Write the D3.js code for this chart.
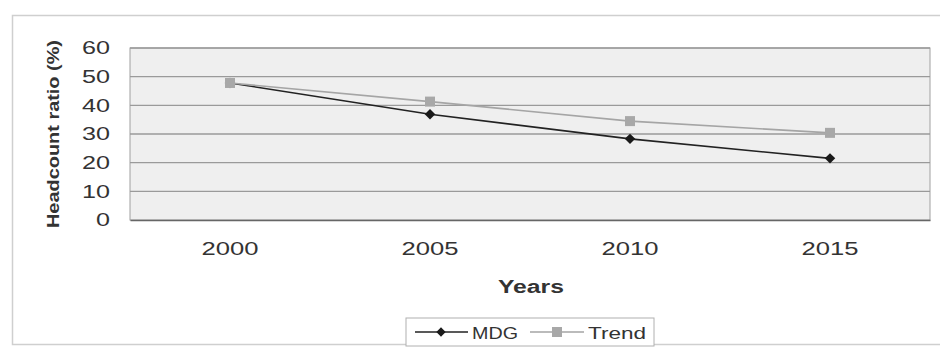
<!DOCTYPE html>
<html><head><meta charset="utf-8">
<script src="https://cdn.jsdelivr.net/npm/d3@7"></script>
<style>body{margin:0;background:#fff}svg{display:block;font-family:Arial,"Liberation Sans",sans-serif}</style>
</head><body><svg id="c" width="940" height="349"></svg>
<script>
const years = ["2000","2005","2010","2015"];
const mdg = [47.8, 36.9, 28.3, 21.5];
const trend = [47.8, 41.3, 34.5, 30.4];
const yTicks = [0,10,20,30,40,50,60];
const seriesNames = ["MDG","Trend"];

const svg = d3.select("#c");
const m = {l:130, r:930, t:48, b:220};
const x = d3.scaleBand().domain(years).range([m.l, m.r]);
const y = d3.scaleLinear().domain([0,60]).range([m.b, m.t]);

// outer frame
svg.append("rect").attr("x",12.5).attr("y",15.5).attr("width",940).attr("height",329)
  .attr("fill","#fff").attr("stroke","#cfcfcf").attr("stroke-width",1.5);

// plot area
svg.append("rect").attr("x",m.l).attr("y",m.t).attr("width",m.r-m.l).attr("height",m.b-m.t)
  .attr("fill","#efefef").attr("stroke","#a0a0a0").attr("stroke-width",1);

// gridlines
svg.append("g").selectAll("line").data(yTicks.filter(d=>d>0)).join("line")
  .attr("x1",m.l).attr("x2",m.r).attr("y1",d=>y(d)).attr("y2",d=>y(d))
  .attr("stroke","#9a9a9a").attr("stroke-width",1.3);

// y axis
const ya = svg.append("g").attr("transform",`translate(${m.l},0)`)
  .call(d3.axisLeft(y).tickValues(yTicks).tickSize(0).tickPadding(20));
ya.select(".domain").remove();
ya.selectAll("text").attr("font-size",18).attr("fill","#333").attr("font-family","Arial, 'Liberation Sans', sans-serif")
  .attr("textLength",d=>d===0?14:28).attr("lengthAdjust","spacingAndGlyphs");

// x axis
const xa = svg.append("g").attr("transform",`translate(0,${m.b})`)
  .call(d3.axisBottom(x).tickSize(0).tickPadding(22));
xa.select(".domain").attr("stroke","#666").attr("stroke-width",1.5);
xa.selectAll("text").attr("font-size",19).attr("fill","#333").attr("font-family","Arial, 'Liberation Sans', sans-serif")
  .attr("textLength",57).attr("lengthAdjust","spacingAndGlyphs");

// axis titles
svg.append("text").attr("transform","translate(59,134) rotate(-90)")
  .attr("text-anchor","middle").attr("font-size",17).attr("font-weight","bold").attr("fill","#333")
  .attr("textLength",188).attr("lengthAdjust","spacingAndGlyphs").text("Headcount ratio (%)");
svg.append("text").attr("x",531).attr("y",293).attr("text-anchor","middle")
  .attr("font-size",18).attr("font-weight","bold").attr("fill","#333")
  .attr("textLength",66).attr("lengthAdjust","spacingAndGlyphs").text("Years");

const cx = d => x(d) + x.bandwidth()/2;
const line = d3.line().x((d,i)=>cx(years[i])).y(d=>y(d));

// MDG
svg.append("path").datum(mdg).attr("d",line).attr("fill","none").attr("stroke","#222").attr("stroke-width",1.6);
svg.append("g").selectAll("path").data(mdg).join("path")
  .attr("transform",(d,i)=>`translate(${cx(years[i])},${y(d)})`)
  .attr("d",d3.symbol(d3.symbolDiamond2,70)).attr("fill","#1a1a1a");

// Trend
svg.append("path").datum(trend).attr("d",line).attr("fill","none").attr("stroke","#a5a5a5").attr("stroke-width",1.6);
svg.append("g").selectAll("rect").data(trend).join("rect")
  .attr("x",(d,i)=>cx(years[i])-5).attr("y",d=>y(d)-5).attr("width",10).attr("height",10)
  .attr("fill","#a8a8a8");

// legend
const lg = svg.append("g");
lg.append("rect").attr("x",406).attr("y",318).attr("width",248).attr("height",28)
  .attr("fill","#fff").attr("stroke","#b0b0b0");
lg.append("line").attr("x1",415).attr("x2",468).attr("y1",332).attr("y2",332).attr("stroke","#222").attr("stroke-width",1.6);
lg.append("path").attr("transform","translate(441,332)").attr("d",d3.symbol(d3.symbolDiamond2,55)).attr("fill","#1a1a1a");
lg.append("text").attr("x",472).attr("y",339).attr("font-size",17).attr("fill","#333")
  .attr("textLength",46).attr("lengthAdjust","spacingAndGlyphs").text(seriesNames[0]);
lg.append("line").attr("x1",530).attr("x2",584).attr("y1",332).attr("y2",332).attr("stroke","#a5a5a5").attr("stroke-width",1.6);
lg.append("rect").attr("x",552).attr("y",327).attr("width",10).attr("height",10).attr("fill","#a8a8a8");
lg.append("text").attr("x",588).attr("y",339).attr("font-size",17).attr("fill","#333")
  .attr("textLength",58).attr("lengthAdjust","spacingAndGlyphs").text(seriesNames[1]);
</script></body></html>
